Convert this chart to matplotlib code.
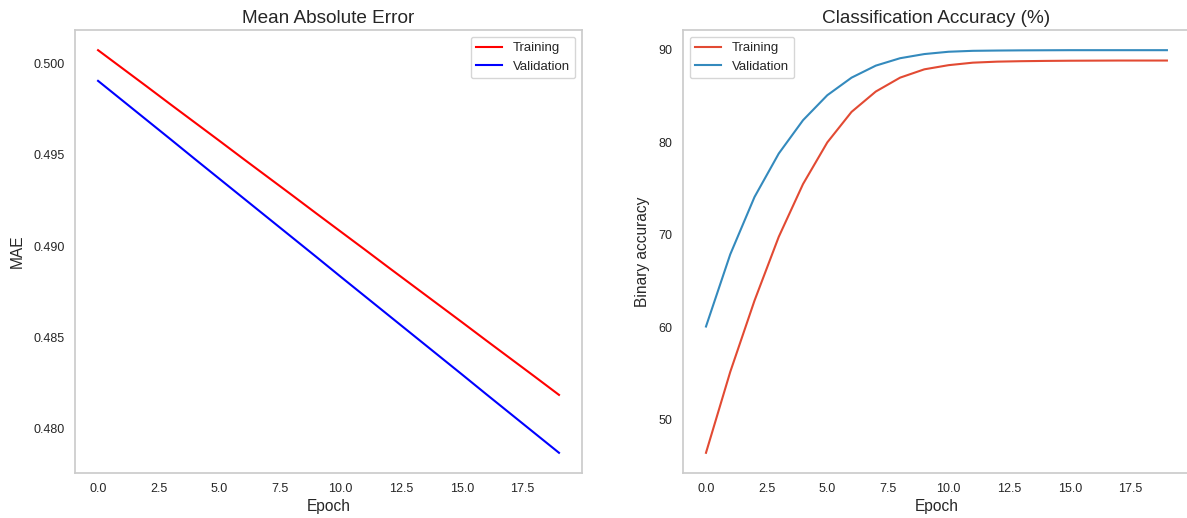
import matplotlib
matplotlib.use("Agg")
import matplotlib.pyplot as plt

epochs = list(range(20))

# MAE per epoch
mae_train = [0.50073, 0.49974, 0.49875, 0.49775, 0.49676, 0.49577, 0.49477, 0.49378, 0.49279, 0.49179,
             0.49080, 0.48981, 0.48881, 0.48782, 0.48683, 0.48584, 0.48484, 0.48385, 0.48286, 0.48186]
mae_val = [0.49905, 0.49798, 0.49691, 0.49584, 0.49476, 0.49369, 0.49262, 0.49155, 0.49048, 0.48941,
           0.48833, 0.48726, 0.48619, 0.48512, 0.48405, 0.48298, 0.48190, 0.48083, 0.47976, 0.47869]

# binary accuracy (%) per epoch
acc_train = [46.45, 55.2, 62.9, 69.8, 75.5, 80.0, 83.3, 85.5, 87.0, 87.9,
             88.35, 88.62, 88.73, 88.78, 88.81, 88.83, 88.84, 88.85, 88.85, 88.85]
acc_val = [60.1, 67.9, 74.1, 78.8, 82.4, 85.1, 87.0, 88.3, 89.1, 89.55,
           89.8, 89.9, 89.93, 89.95, 89.96, 89.97, 89.97, 89.97, 89.97, 89.97]

plt.rcParams['font.family'] = ['Liberation Sans', 'DejaVu Sans']
plt.rcParams['text.color'] = '#262626'
plt.rcParams['axes.labelcolor'] = '#262626'
plt.rcParams['xtick.color'] = '#262626'
plt.rcParams['ytick.color'] = '#262626'
plt.rcParams['axes.edgecolor'] = '#cccccc'
plt.rcParams['axes.linewidth'] = 1.25

fig, (ax1, ax2) = plt.subplots(1, 2, figsize=(11.87, 5.18), dpi=100)
fig.subplots_adjust(left=0.0632, right=1.0025, bottom=0.087, top=0.942, wspace=0.199)

ax1.plot(epochs, mae_train, color='red', lw=1.5, label='Training')
ax1.plot(epochs, mae_val, color='blue', lw=1.5, label='Validation')
ax1.set_title('Mean Absolute Error', fontsize=13.7, pad=5)
ax1.set_ylabel('MAE', fontsize=11.2, labelpad=6)
ax1.set_xlabel('Epoch', fontsize=11.2, labelpad=3)
ax1.legend(loc='upper right', fontsize=9.5, edgecolor='#cccccc')

ax2.plot(epochs, acc_train, color='#E24A33', lw=1.5, label='Training')
ax2.plot(epochs, acc_val, color='#348ABD', lw=1.5, label='Validation')
ax2.set_title('Classification Accuracy (%)', fontsize=13.7, pad=5)
ax2.set_ylabel('Binary accuracy', fontsize=11.2, labelpad=6)
ax2.set_xlabel('Epoch', fontsize=11.2, labelpad=3)
ax2.legend(loc='upper left', fontsize=9.5, edgecolor='#cccccc')

for ax in (ax1, ax2):
    ax.grid(False)
    ax.tick_params(length=0, pad=7.3, labelsize=9)

fig.savefig('out.png', dpi=100)
